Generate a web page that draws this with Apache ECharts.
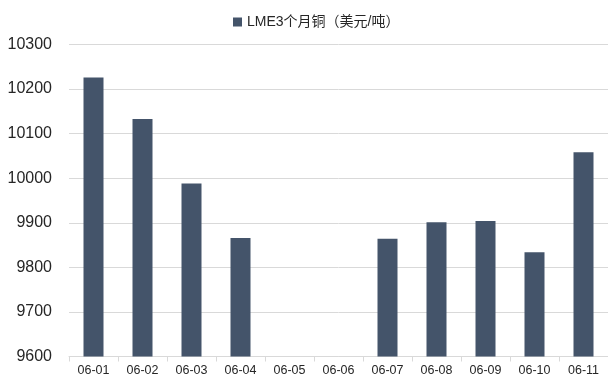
<!DOCTYPE html>
<html>
<head>
<meta charset="utf-8">
<script src="https://cdn.jsdelivr.net/npm/echarts@6/dist/echarts.min.js"></script>
<style>
  html, body { margin: 0; padding: 0; background: #fff; }
  #main { width: 608px; height: 381px; }
</style>
</head>
<body>
<div id="main"></div>
<script>
  // 数据
  const dates = ['06-01', '06-02', '06-03', '06-04', '06-05', '06-06', '06-07', '06-08', '06-09', '06-10', '06-11'];
  const copperPrice = [10226, 10133, 9988, 9866, null, null, 9864, 9901, 9904, 9834, 10058];
  const seriesName = 'LME3个月铜（美元/吨）';

  const chart = echarts.init(document.getElementById('main'));

  const option = {
    animation: false,
    textStyle: { fontFamily: '"Liberation Sans", "Noto Sans CJK SC", sans-serif' },
    legend: {
      data: [seriesName],
      top: 10,
      left: 228,
      icon: 'rect',
      itemWidth: 9,
      itemHeight: 9,
      itemGap: 4,
      textStyle: { fontSize: 14, color: '#262626', fontFamily: '"Liberation Sans", "Noto Sans CJK SC", sans-serif' }
    },
    grid: { left: 69, right: 0, top: 44.5, bottom: 24.5 },
    xAxis: {
      type: 'category',
      data: dates,
      axisLine: { lineStyle: { color: '#d9d9d9' } },
      axisTick: { show: true, length: 5, lineStyle: { color: '#d9d9d9' } },
      axisLabel: { fontSize: 12.5, color: '#262626', margin: 8 }
    },
    yAxis: {
      type: 'value',
      min: 9600,
      max: 10300,
      interval: 100,
      axisLine: { show: false },
      axisTick: { show: false },
      splitLine: { lineStyle: { color: '#d9d9d9' } },
      axisLabel: { fontSize: 16, color: '#262626', margin: 17, formatter: (v) => String(v) }
    },
    series: [{
      name: seriesName,
      type: 'bar',
      data: copperPrice,
      barWidth: 20,
      itemStyle: { color: '#44546A' }
    }]
  };

  chart.setOption(option);
</script>
</body>
</html>
